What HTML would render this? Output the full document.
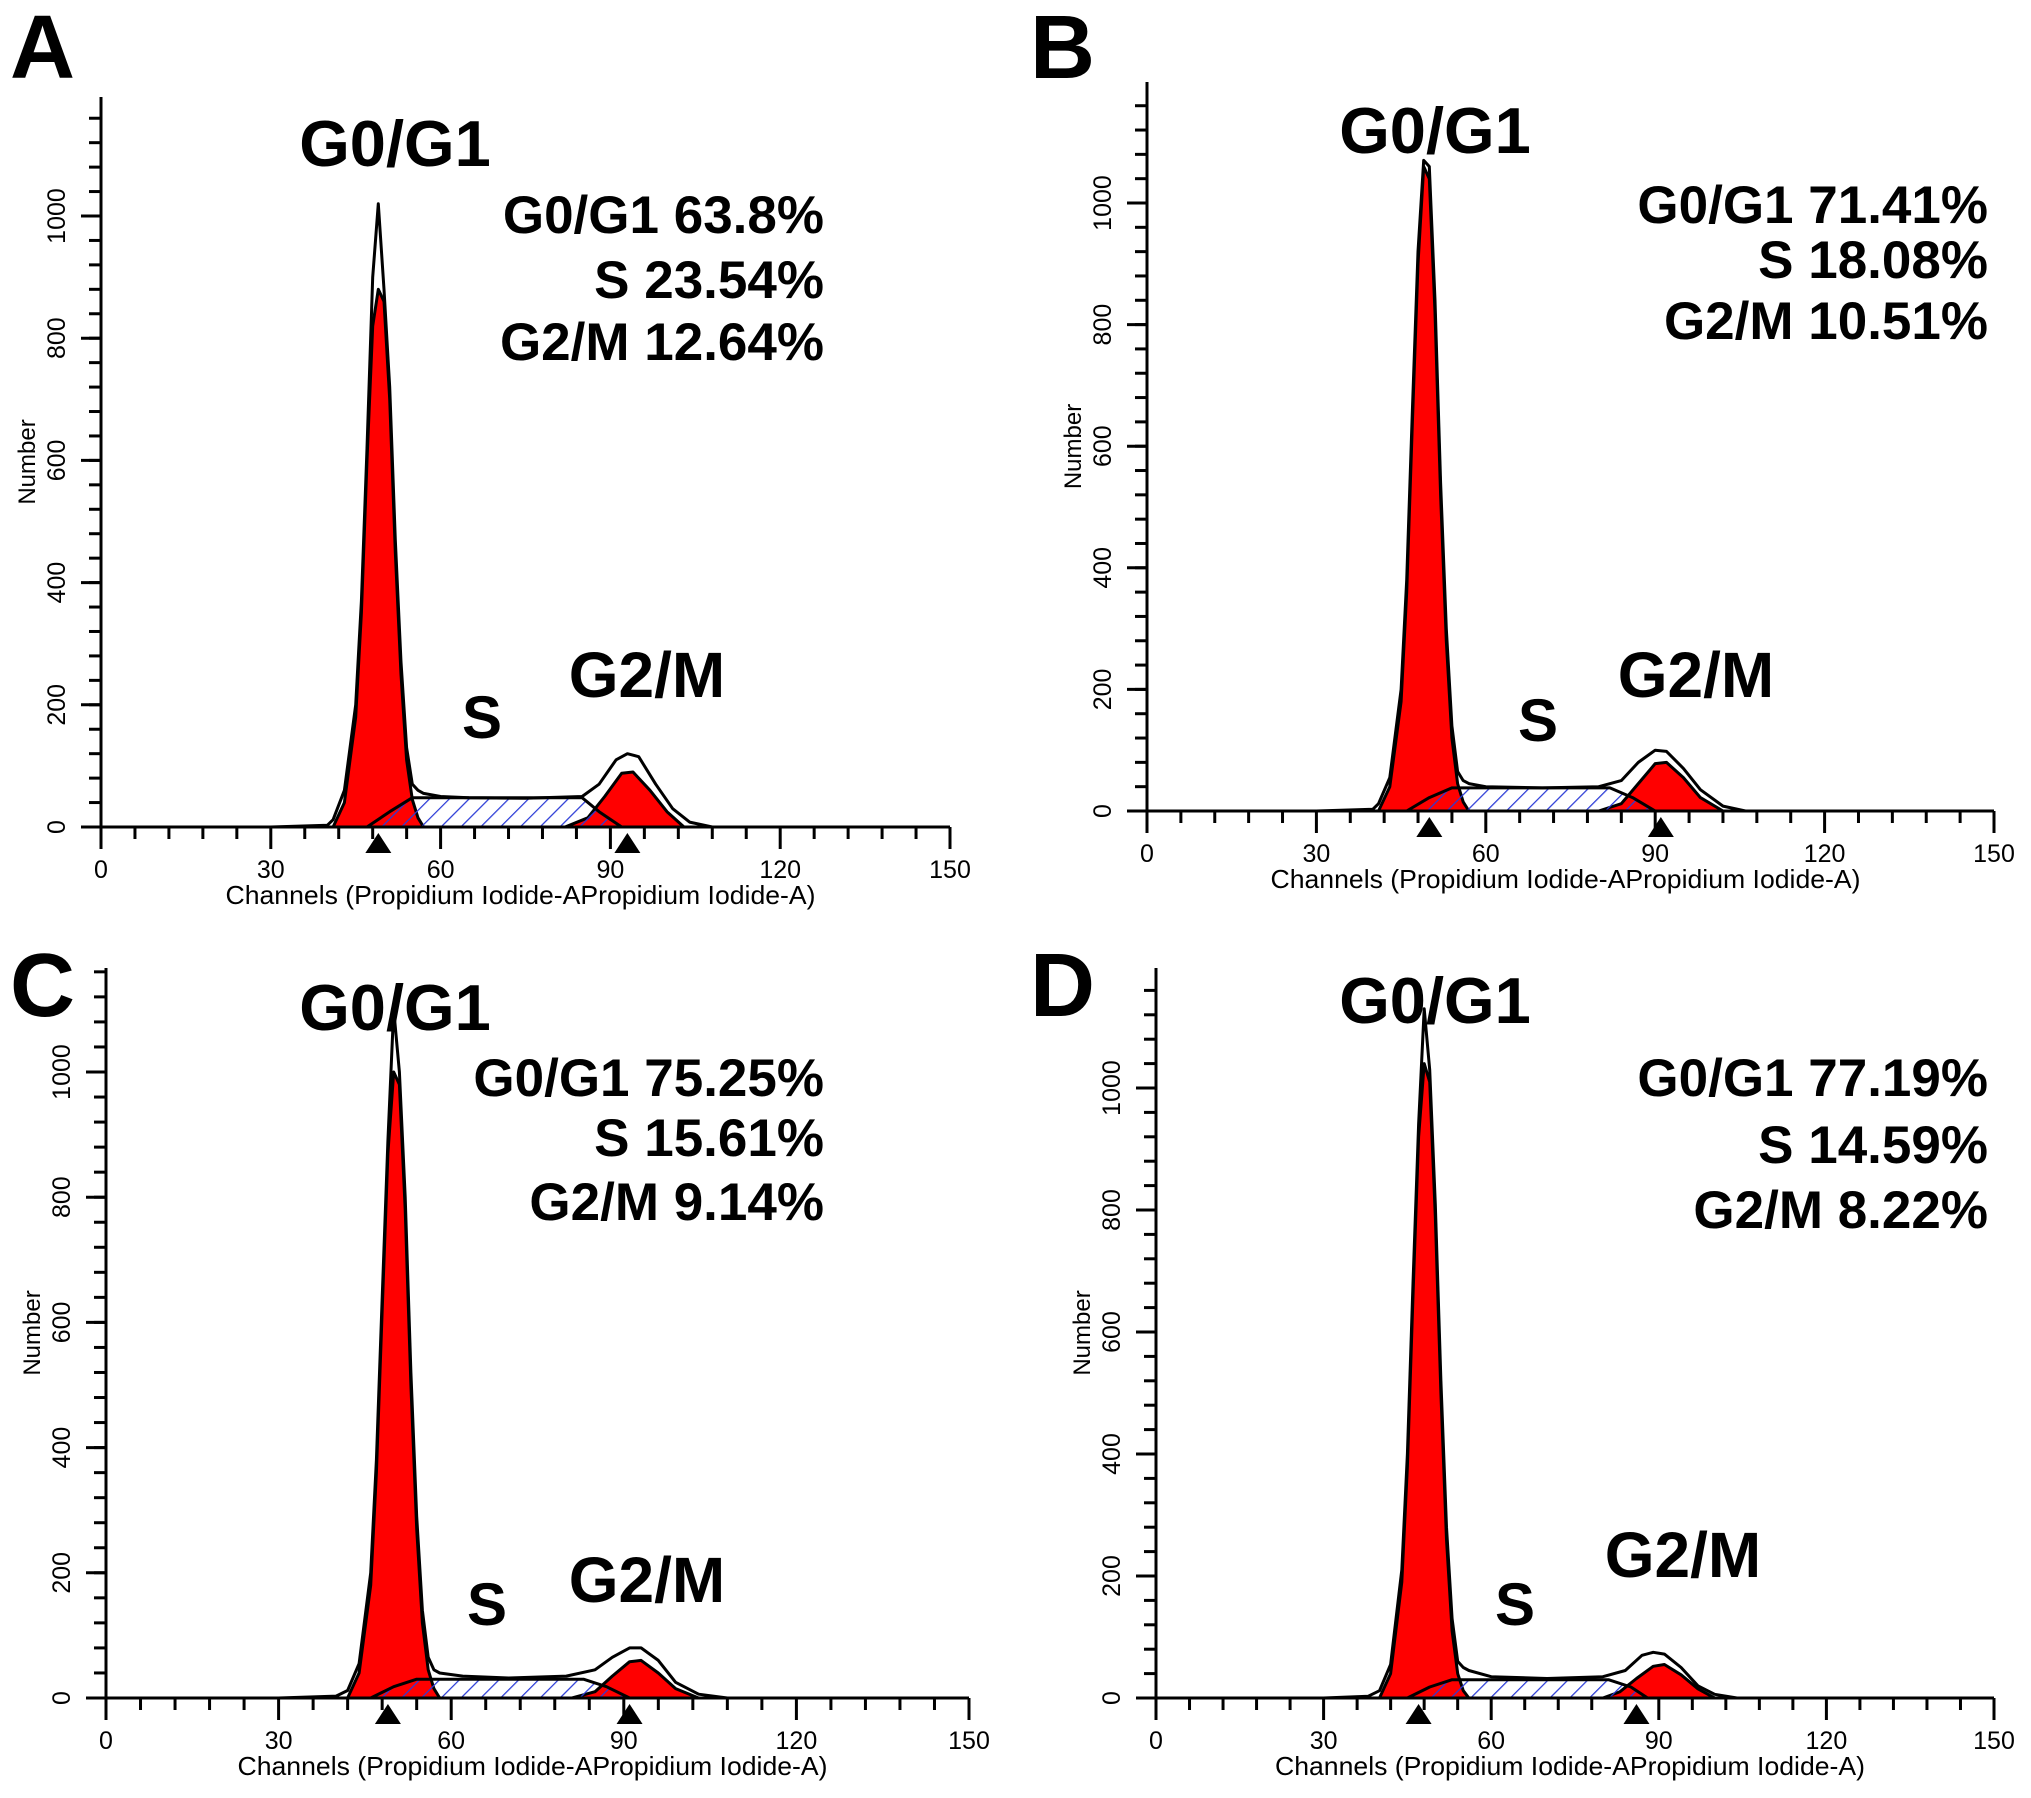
<!DOCTYPE html>
<html><head><meta charset="utf-8"><style>
html,body{margin:0;padding:0;background:#fff}
svg{display:block}
text{font-family:"Liberation Sans",Arial,sans-serif}
</style></head><body>
<svg id="fig" width="2031" height="1798" viewBox="0 0 2031 1798" xmlns="http://www.w3.org/2000/svg">
<defs>
<pattern id="hatch" patternUnits="userSpaceOnUse" width="14" height="14" patternTransform="rotate(45)">
<line x1="0" y1="0" x2="0" y2="14" stroke="#2b3bd6" stroke-width="2.5"/>
</pattern>
</defs>
</svg>
<script>
// ---- Data (channels / counts) per panel ----
const panelLetters = ["A","B","C","D"];
const statsG1 = ["63.8%","71.41%","75.25%","77.19%"];
const statsS = ["23.54%","18.08%","15.61%","14.59%"];
const statsG2 = ["12.64%","10.51%","9.14%","8.22%"];
const xTickLabels = [0,30,60,90,120,150];
const yTickLabels = [0,200,400,600,800,1000];

const g1ChA = [41,43,45,46,47,48,49,50,51,52,53,54,55,56,57];
const g1CtA = [0,40,180,350,600,820,880,860,700,450,250,110,45,15,0];
const g1ChB = [41,43,45,46,47,48,49,50,51,52,53,54,55,56,57];
const g1CtB = [0,40,180,360,640,900,1060,1040,820,520,280,120,45,15,0];
const g1ChC = [42,44,46,47,48,49,50,51,52,53,54,55,56,57,58];
const g1CtC = [0,40,180,360,620,870,1000,980,780,500,270,120,45,15,0];
const g1ChD = [40,42,44,45,46,47,48,49,50,51,52,53,54,55,56];
const g1CtD = [0,40,190,380,660,920,1040,1010,790,500,260,110,40,12,0];

const g2ChA = [82,86,89,92,94,97,100,103];
const g2CtA = [0,15,50,88,90,60,25,0];
const g2ChB = [80,84,87,90,92,95,98,102];
const g2CtB = [0,12,45,78,80,55,22,0];
const g2ChC = [81,85,88,91,93,96,99,103];
const g2CtC = [0,10,35,58,60,40,15,0];
const g2ChD = [80,83,86,89,91,94,97,100];
const g2CtD = [0,10,32,52,55,38,15,0];

const sChA = [47,51,55,85,88,92];
const sCtA = [0,25,48,48,25,0];
const sChB = [46,50,54,82,86,90];
const sCtB = [0,22,38,38,22,0];
const sChC = [46,50,54,83,87,91];
const sCtC = [0,18,30,30,18,0];
const sChD = [45,49,53,81,85,88];
const sCtD = [0,18,30,30,18,0];

const totChA = [30,40,41,43,45,46,47,48,49,50,51,52,53,54,55,56,57,60,65,75,85,88,91,93,95,98,101,104,108];
const totCtA = [0,3,12,60,200,370,620,900,1020,880,720,470,270,130,70,60,55,50,48,47,50,70,110,120,115,70,30,8,0];
const totChB = [30,40,41,43,45,46,47,48,49,50,51,52,53,54,55,56,57,60,70,80,84,87,90,92,95,98,102,106];
const totCtB = [0,3,12,55,200,380,660,920,1070,1060,840,540,300,140,65,50,45,40,38,40,50,80,100,98,70,35,8,0];
const totChC = [30,40,42,44,46,47,48,49,50,51,52,53,54,55,56,57,58,62,70,80,85,88,91,93,96,99,103,108];
const totCtC = [0,3,12,55,200,380,640,890,1100,1000,800,520,290,140,65,45,40,35,32,35,45,65,80,80,60,25,6,0];
const totChD = [30,38,40,42,44,45,46,47,48,49,50,51,52,53,54,55,56,60,70,80,84,87,89,91,94,97,100,104];
const totCtD = [0,3,12,55,210,400,680,940,1130,1030,810,520,280,130,60,50,45,35,32,35,45,70,75,72,50,20,6,0];

const g1MarkCh = [49,50,49,47];
const g2MarkCh = [93,91,91,86];

// ---- layout ----
const panels = [
 {x0:101,x1:950,y0:827,y1:216,top:97,letter:[10,78],lab:[395,166],stR:824,stY:[233,298,360],s:[482,738],g2:[647,697],
  g1:[g1ChA,g1CtA],g2d:[g2ChA,g2CtA],sd:[sChA,sCtA],tot:[totChA,totCtA]},
 {x0:1147,x1:1994,y0:811,y1:203,top:82,letter:[1030,78],lab:[1435,153],stR:1988,stY:[223,278,339],s:[1538,741],g2:[1696,697],
  g1:[g1ChB,g1CtB],g2d:[g2ChB,g2CtB],sd:[sChB,sCtB],tot:[totChB,totCtB]},
 {x0:106,x1:969,y0:1698,y1:1072,top:968,letter:[10,1016],lab:[395,1030],stR:824,stY:[1096,1156,1220],s:[487,1625],g2:[647,1602],
  g1:[g1ChC,g1CtC],g2d:[g2ChC,g2CtC],sd:[sChC,sCtC],tot:[totChC,totCtC]},
 {x0:1156,x1:1994,y0:1698,y1:1088,top:968,letter:[1030,1016],lab:[1435,1023],stR:1988,stY:[1096,1163,1228],s:[1515,1625],g2:[1683,1577],
  g1:[g1ChD,g1CtD],g2d:[g2ChD,g2CtD],sd:[sChD,sCtD],tot:[totChD,totCtD]}
];
const NS="http://www.w3.org/2000/svg";
const svg=document.getElementById('fig');
function mk(tag,attrs,parent,txt){const e=document.createElementNS(NS,tag);for(const k in attrs)e.setAttribute(k,attrs[k]);if(txt!==undefined)e.textContent=txt;parent.appendChild(e);return e;}

panels.forEach((p,i)=>{
  const g=mk('g',{},svg);
  
  
  const X=c=>p.x0+(c/150)*(p.x1-p.x0);
  const Y=v=>p.y0-(v/1000)*(p.y0-p.y1);
  const pts=(ch,ct)=>ch.map((c,j)=>X(c).toFixed(1)+','+Y(ct[j]).toFixed(1)).join(' ');
  const L=mk('text',{x:p.letter[0],y:p.letter[1],'font-size':90,'font-weight':'bold'},g,panelLetters[i]);
  
  
  const r1=mk('polygon',{points:pts(p.g1[0],p.g1[1]),fill:'#f00',stroke:'#000','stroke-width':3,'stroke-linejoin':'round'},g);
  
  
  const r2=mk('polygon',{points:pts(p.g2d[0],p.g2d[1]),fill:'#f00',stroke:'#000','stroke-width':3,'stroke-linejoin':'round'},g);
  
  
  const sp=mk('polygon',{points:pts(p.sd[0],p.sd[1]),fill:'url(#hatch)',stroke:'#000','stroke-width':3,'stroke-linejoin':'round'},g);
  
  
  const tl=mk('polyline',{points:pts(p.tot[0],p.tot[1]),fill:'none',stroke:'#000','stroke-width':3,'stroke-linejoin':'round'},g);
  
  
  const ax=mk('g',{stroke:'#000','stroke-width':3},g);
  
  
  mk('line',{x1:p.x0,y1:p.top,x2:p.x0,y2:p.y0+4},ax);
  mk('line',{x1:p.x0-2,y1:p.y0,x2:p.x1,y2:p.y0},ax);
  for(let c=0;c<=150;c+=6){const maj=c%30===0;mk('line',{x1:X(c),y1:p.y0,x2:X(c),y2:p.y0+(maj?22:12)},ax);}
  for(let v=0;Y(v)>=p.top;v+=40){mk('line',{x1:p.x0,y1:Y(v),x2:p.x0-12,y2:Y(v)},ax);}
  yTickLabels.forEach(v=>{mk('line',{x1:p.x0,y1:Y(v),x2:p.x0-20,y2:Y(v)},ax);
    const t=mk('text',{x:0,y:0,'font-size':25,'text-anchor':'middle',transform:`translate(${p.x0-36},${Y(v)}) rotate(-90)`,stroke:'none',fill:'#000'},g,String(v));
    
    
  });
  xTickLabels.forEach(c=>{const t=mk('text',{x:X(c),y:p.y0+51,'font-size':25,'text-anchor':'middle'},g,String(c));
    
    });
  const yt=mk('text',{x:0,y:0,'font-size':24,'text-anchor':'middle',transform:`translate(${p.x0-66},${(p.y0+p.top)/2}) rotate(-90)`},g,'Number');
  
  
  const xt=mk('text',{x:(p.x0+p.x1)/2-5,y:p.y0+77,'font-size':26,'text-anchor':'middle','textLength':590,'lengthAdjust':'spacingAndGlyphs'},g,'Channels (Propidium Iodide-APropidium Iodide-A)');
  
  
  [g1MarkCh[i],g2MarkCh[i]].forEach(c=>{const m=mk('polygon',{points:`${X(c)},${p.y0+6} ${X(c)-13},${p.y0+26} ${X(c)+13},${p.y0+26}`,fill:'#000'},g);
    
    });
  const big={'font-weight':'bold','text-anchor':'middle'};
  const a=mk('text',Object.assign({x:p.lab[0],y:p.lab[1],'font-size':65},big),g,'G0/G1');
  
  
  const b=mk('text',Object.assign({x:p.s[0],y:p.s[1],'font-size':60},big),g,'S');
  
  
  const c=mk('text',Object.assign({x:p.g2[0],y:p.g2[1],'font-size':64},big),g,'G2/M');
  
  
  const st=[['G0/G1 ',statsG1[i]],['S ',statsS[i]],['G2/M ',statsG2[i]]];
  st.forEach((s,k)=>{const t=mk('text',{x:p.stR,y:p.stY[k],'font-size':53,'font-weight':'bold','text-anchor':'end'},g,s[0]+s[1]);
    
    });
});
</script>
</body></html>
